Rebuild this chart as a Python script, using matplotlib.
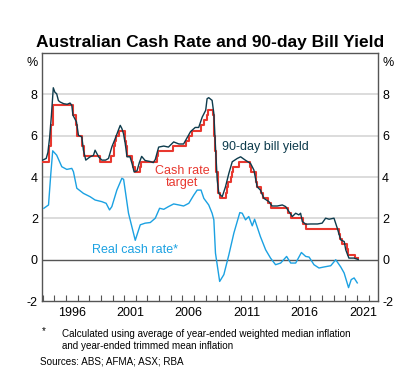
import numpy as np
import matplotlib
matplotlib.use('Agg')
import matplotlib.pyplot as plt
from matplotlib.ticker import FixedLocator

plt.rcParams['font.family'] = ['Liberation Sans', 'DejaVu Sans']

# ── data (decimal years) ─────────────────────
# cash rate target: month of change and new level
cash_months = ['1993-08', '1994-08', '1994-10', '1994-12', '1996-08', '1996-11',
               '1996-12', '1997-05', '1997-08', '1998-12', '1999-11', '2000-02',
               '2000-04', '2000-05', '2000-08', '2001-02', '2001-03', '2001-04',
               '2001-09', '2001-10', '2001-12', '2002-05', '2002-06', '2003-11',
               '2003-12', '2005-03', '2006-05', '2006-08', '2006-11', '2007-08',
               '2007-11', '2008-02', '2008-03', '2008-09', '2008-10', '2008-11',
               '2008-12', '2009-02', '2009-04', '2009-10', '2009-11', '2009-12',
               '2010-03', '2010-04', '2010-05', '2010-11', '2011-11', '2011-12',
               '2012-05', '2012-06', '2012-10', '2012-12', '2013-05', '2013-08',
               '2015-02', '2015-05', '2016-05', '2016-08', '2019-06', '2019-07',
               '2019-10', '2020-03', '2020-04', '2020-11', '2021-02']
cash_level = [4.75, 5.5, 6.5, 7.5, 7.0, 6.5,
              6.0, 5.5, 5.0, 4.75, 5.0, 5.5,
              5.75, 6.0, 6.25, 5.75, 5.5, 5.0,
              4.75, 4.5, 4.25, 4.5, 4.75, 5.0,
              5.25, 5.5, 5.75, 6.0, 6.25, 6.5,
              6.75, 7.0, 7.25, 7.0, 6.0, 5.25,
              4.25, 3.25, 3.0, 3.25, 3.5, 3.75,
              4.0, 4.25, 4.5, 4.75, 4.5, 4.25,
              3.75, 3.5, 3.25, 3.0, 2.75, 2.5,
              2.25, 2.0, 1.75, 1.5, 1.25, 1.0,
              0.75, 0.5, 0.25, 0.1, 0.1]

bill_year = [1994.0, 1994.3, 1994.45, 1994.6, 1994.75, 1994.91, 1995.05, 1995.2,
             1995.35, 1995.5, 1995.8, 1996.1, 1996.35, 1996.5, 1996.6, 1996.9,
             1997.07, 1997.36, 1997.5, 1997.7, 1998.07, 1998.36, 1998.5, 1998.8,
             1999.08, 1999.4, 1999.65, 1999.94, 2000.23, 2000.5, 2000.66, 2000.8,
             2000.94, 2001.09, 2001.24, 2001.5, 2001.7, 2001.85, 2002.1, 2002.3,
             2002.5, 2002.8, 2003.24, 2003.5, 2003.67, 2003.96, 2004.4, 2004.8,
             2005.25, 2005.7, 2006.1, 2006.4, 2006.7, 2007.1, 2007.4, 2007.7,
             2008.0, 2008.12, 2008.26, 2008.55, 2008.7, 2008.84, 2008.99, 2009.13,
             2009.42, 2009.7, 2009.99, 2010.28, 2010.71, 2011.0, 2011.4, 2011.85,
             2012.14, 2012.42, 2012.7, 2013.0, 2013.43, 2013.7, 2014.15, 2014.58,
             2014.87, 2015.15, 2015.44, 2015.73, 2016.0, 2016.15, 2016.3, 2016.59,
             2017.02, 2017.6, 2018.0, 2018.3, 2018.6, 2019.02, 2019.3, 2019.6,
             2019.9, 2020.03, 2020.3, 2020.75, 2021.1]
bill_value = [4.82, 4.9, 5.2, 5.94, 7.0, 8.32, 8.1, 8.03,
              7.7, 7.63, 7.55, 7.52, 7.58, 7.47, 6.99, 6.67,
              6.02, 5.94, 5.3, 4.82, 4.98, 5.05, 5.3, 4.98,
              4.82, 4.82, 4.9, 5.46, 5.86, 6.27, 6.5, 6.35,
              6.1, 5.62, 4.98, 4.98, 4.6, 4.25, 4.3, 4.7,
              5.0, 4.8, 4.75, 4.7, 4.85, 5.45, 5.5, 5.45,
              5.7, 5.6, 5.6, 5.9, 6.2, 6.4, 6.4, 6.9,
              7.23, 7.79, 7.84, 7.71, 7.07, 5.46, 3.86, 3.21,
              3.05, 3.53, 4.18, 4.74, 4.9, 4.98, 4.82, 4.66,
              4.34, 3.53, 3.37, 2.97, 2.81, 2.6, 2.6, 2.65,
              2.57, 2.33, 2.09, 2.25, 2.17, 2.25, 1.85, 1.72,
              1.73, 1.73, 1.77, 2.01, 1.96, 2.01, 1.53, 0.96,
              0.88, 0.48, 0.08, 0.08, 0.01]

real_year = [1994.1, 1994.5, 1994.7, 1994.86, 1995.2, 1995.64, 1996.07, 1996.5,
             1996.64, 1996.93, 1997.5, 1998.07, 1998.5, 1999.08, 1999.45, 1999.74,
             1999.94, 2000.37, 2000.8, 2000.95, 2001.37, 2001.95, 2002.38, 2002.8,
             2003.24, 2003.67, 2004.04, 2004.4, 2004.8, 2005.25, 2005.7, 2006.1,
             2006.55, 2006.98, 2007.27, 2007.6, 2007.84, 2008.26, 2008.55, 2008.7,
             2008.84, 2009.2, 2009.56, 2009.99, 2010.42, 2010.93, 2011.14, 2011.42,
             2011.7, 2012.0, 2012.2, 2012.7, 2013.15, 2013.57, 2014.0, 2014.44,
             2014.95, 2015.3, 2015.73, 2016.22, 2016.59, 2016.88, 2017.3, 2017.73,
             2018.16, 2018.74, 2019.17, 2019.6, 2019.89, 2020.27, 2020.5, 2020.75,
             2021.02]
real_value = [2.49, 2.65, 4.18, 5.27, 5.06, 4.5, 4.37, 4.42,
              4.26, 3.46, 3.21, 3.05, 2.89, 2.81, 2.73, 2.41,
              2.57, 3.37, 3.94, 3.89, 2.25, 0.94, 1.69, 1.77,
              1.8, 2.01, 2.49, 2.44, 2.57, 2.7, 2.65, 2.6,
              2.73, 3.13, 3.37, 3.37, 2.97, 2.65, 2.25, 1.93,
              0.32, -1.05, -0.72, 0.24, 1.29, 2.28, 2.25, 1.93,
              2.09, 1.64, 1.96, 1.12, 0.48, 0.08, -0.24, -0.16,
              0.16, -0.16, -0.16, 0.35, 0.16, 0.13, -0.24, -0.4,
              -0.35, -0.29, 0.0, -0.35, -0.64, -1.35, -0.96, -0.88,
              -1.12]

year_labels = ['1996', '2001', '2006', '2011', '2016', '2021']
y_ticks = [-2, 0, 2, 4, 6, 8]

# ── colours ─────────────────────────────────
C_BILL = '#0d3b4c'
C_CASH = '#e8382f'
C_REAL = '#1ba1e2'
C_GRID = '#d9d9d9'
C_AXIS = '#555555'


def to_year(s):
    y, m = s.split('-')
    return int(y) + (int(m) - 1) / 12.0


cash_x = [to_year(s) for s in cash_months]

fig = plt.figure(figsize=(4.2, 3.9), dpi=100)
ax = fig.add_axes([0.1, 0.228, 0.8, 0.636])

ax.set_xlim(1993.94, 2022.8)
ax.set_ylim(-2, 10)

for v in [2, 4, 6, 8]:
    ax.axhline(v, color=C_GRID, linewidth=1.3, zorder=1)
ax.axhline(0, color=C_AXIS, linewidth=1.0, zorder=2)

ax.step(cash_x, cash_level, where='post', color=C_CASH, linewidth=1.5, zorder=3)
ax.plot(bill_year, bill_value, color=C_BILL, linewidth=1.0, zorder=4)
ax.plot(real_year, real_value, color=C_REAL, linewidth=1.0, zorder=3)

# axes styling
for sp in ax.spines.values():
    sp.set_color(C_AXIS)
    sp.set_linewidth(1.0)

ax.set_yticks(y_ticks)
ax.set_yticklabels([str(t) for t in y_ticks])
ax.tick_params(axis='y', length=0, pad=3, labelsize=9, labelright=True,
               right=True, labelcolor='black')

label_pos = [int(s) + 0.5 for s in year_labels]
ax.xaxis.set_major_locator(FixedLocator(label_pos))
ax.set_xticklabels(year_labels)
ax.xaxis.set_minor_locator(FixedLocator(list(range(1994, 2023))))
ax.tick_params(axis='x', which='major', length=0, pad=4, labelsize=9)
ax.tick_params(axis='x', which='minor', length=4, direction='in',
               color=C_AXIS, width=0.8)

ax.text(-0.012, 0.985, '%', transform=ax.transAxes, ha='right', va='top', fontsize=9)
ax.text(1.012, 0.985, '%', transform=ax.transAxes, ha='left', va='top', fontsize=9)

# series labels
ax.text(2009.4, 5.45, '90-day bill yield', color=C_BILL, fontsize=9,
        ha='left', va='center')
ax.text(2006.0, 4.0, 'Cash rate\ntarget', color=C_CASH, fontsize=9,
        ha='center', va='center', linespacing=1.05)
ax.text(2001.9, 0.48, 'Real cash rate*', color=C_REAL, fontsize=9,
        ha='center', va='center')

fig.text(0.5, 0.89, 'Australian Cash Rate and 90-day Bill Yield',
         ha='center', va='center', fontsize=12.5, fontweight='bold')

fig.text(0.1, 0.152, '*', fontsize=7, ha='left', va='center')
fig.text(0.148, 0.156, 'Calculated using average of year-ended weighted median inflation\n'
         'and year-ended trimmed mean inflation',
         fontsize=7.1, ha='left', va='top', linespacing=1.2)
fig.text(0.095, 0.074, 'Sources: ABS; AFMA; ASX; RBA', fontsize=7.1,
         ha='left', va='center')

fig.savefig('out.png', dpi=100)
